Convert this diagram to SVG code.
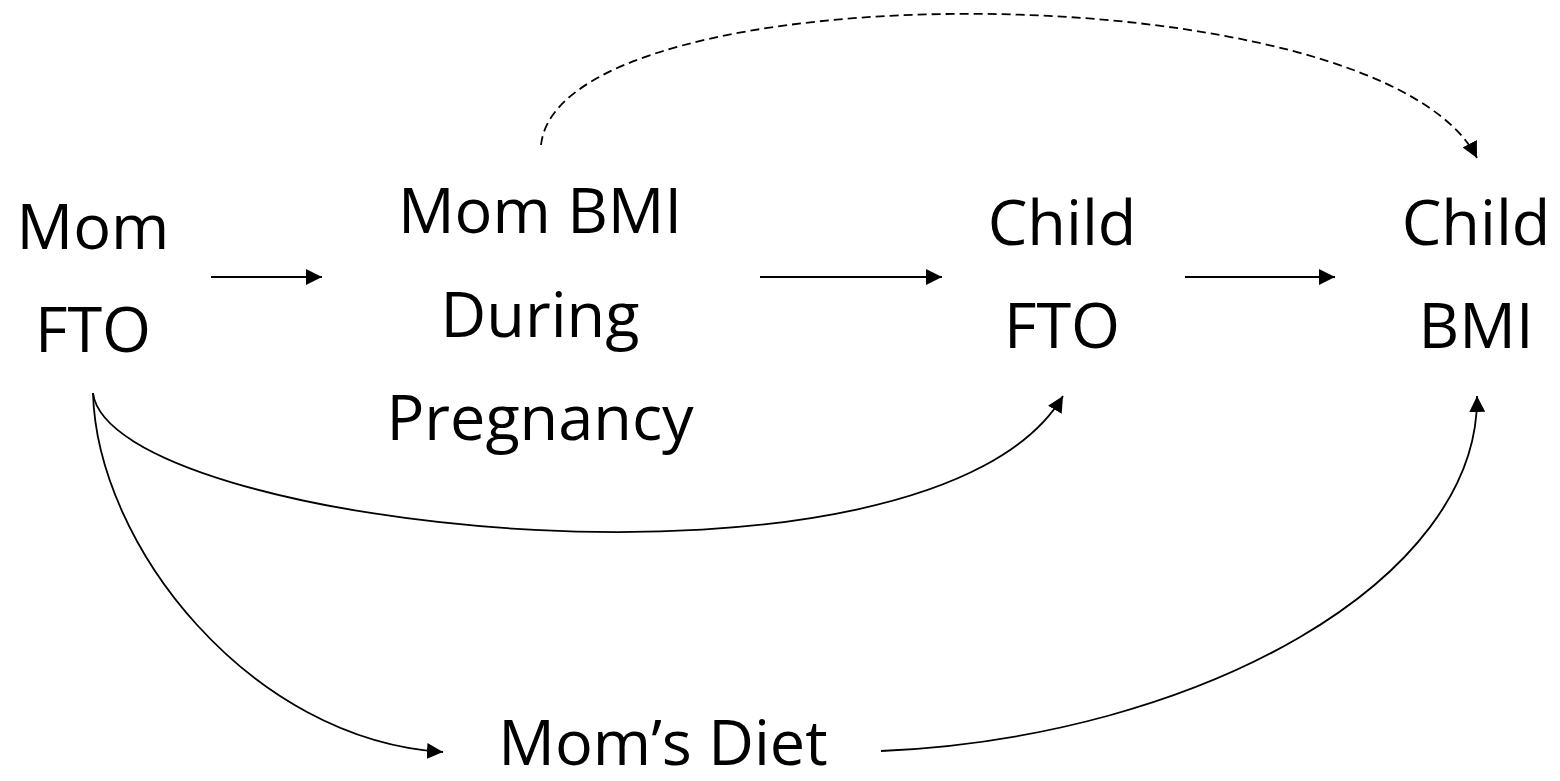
<svg xmlns="http://www.w3.org/2000/svg" width="1560" height="781" viewBox="0 0 1560 781">
  <style>
    .lbl { font-family: "Open Sans", "Noto Sans", "Liberation Sans", sans-serif; font-size: 63px; fill: #000; text-anchor: middle; }
    .edge { fill: none; stroke: #000; stroke-width: 1.8; marker-end: url(#arrow); }
    .dash { stroke-dasharray: 9 5; }
  </style>
  <defs>
    <marker id="arrow" markerUnits="userSpaceOnUse" markerWidth="16" markerHeight="16" refX="16" refY="8" orient="auto" viewBox="0 0 16 16">
      <path d="M0,0 L16,8 L0,16 z" fill="#000"/>
    </marker>
  </defs>
  <rect width="1560" height="781" fill="#fff"/>
  <g id="node-mom-fto">
    <text class="lbl" x="93" y="249">Mom</text>
    <text class="lbl" x="93" y="352">FTO</text>
  </g>
  <g id="node-mom-bmi">
    <text class="lbl" x="540" y="233">Mom BMI</text>
    <text class="lbl" x="540" y="337">During</text>
    <text class="lbl" x="540" y="440">Pregnancy</text>
  </g>
  <g id="node-child-fto">
    <text class="lbl" x="1062" y="245">Child</text>
    <text class="lbl" x="1062" y="348">FTO</text>
  </g>
  <g id="node-child-bmi">
    <text class="lbl" x="1476" y="245">Child</text>
    <text class="lbl" x="1476" y="348">BMI</text>
  </g>
  <g id="node-mom-diet">
    <text class="lbl" x="663" y="765">Mom’s Diet</text>
  </g>
  <g id="connectors">
    <path class="edge" d="M211,277 L322,277"/>
    <path class="edge" d="M760,277 L942,277"/>
    <path class="edge" d="M1185,277 L1335,277"/>
    <path class="edge dash" d="M541,145 C560,-32 1380,-32 1477,158"/>
    <path class="edge" d="M93,393 C110,530 930,620 1063,396"/>
    <path class="edge" d="M93,393 C97,545 250,740 443,752"/>
    <path class="edge" d="M881,751 C1200,737 1480,580 1477,396"/>
  </g>
</svg>
